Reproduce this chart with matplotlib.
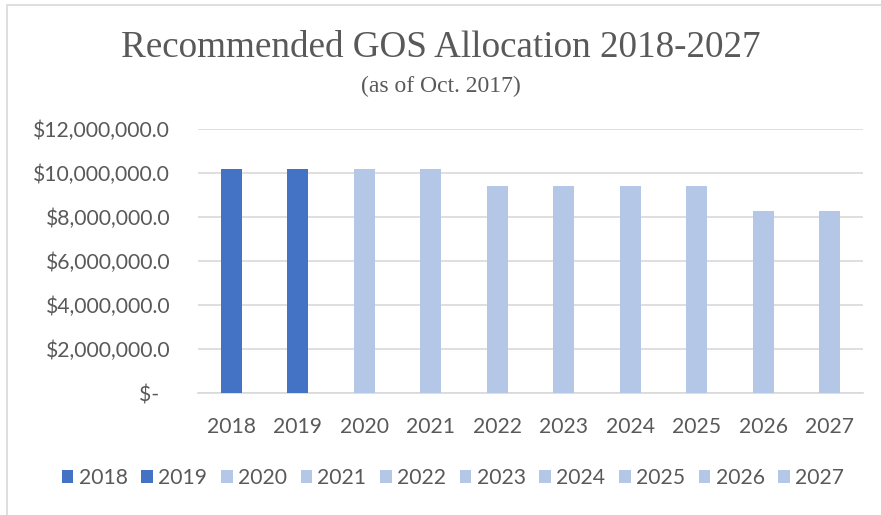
import matplotlib
matplotlib.use("Agg")
import matplotlib.pyplot as plt
from matplotlib.patches import Patch, Rectangle
from matplotlib.ticker import FuncFormatter

years = ["2018", "2019", "2020", "2021", "2022", "2023", "2024", "2025", "2026", "2027"]
allocation = [10180000, 10180000, 10180000, 10180000, 9420000, 9420000, 9420000, 9420000, 8290000, 8290000]
dark_blue = "#4472C4"
light_blue = "#B4C7E7"
colors = [dark_blue, dark_blue] + [light_blue] * 8

text_grey = "#595959"
plt.rcParams["font.family"] = ["Lato", "DejaVu Sans"]

fig = plt.figure(figsize=(8.81, 5.15), dpi=100)
fig.patches.append(Rectangle((7 / 881, -0.1), 1.2, 1 - 5 / 515 + 0.1, transform=fig.transFigure,
                             fill=False, edgecolor="#D9D9D9", linewidth=1.2))

ax = fig.add_axes([198 / 881, 1 - 393.3 / 515, 665 / 881, (393.3 - 129.3) / 515])
x = range(len(years))
ax.bar(x, allocation, width=0.31, color=colors, zorder=3)

ax.set_xlim(-0.5, len(years) - 0.5)
ax.set_ylim(0, 12000000)
ax.set_yticks(range(0, 12000001, 2000000))

def money(v, pos):
    if v == 0:
        return "$-  "
    return "${:,.1f}".format(v)

ax.yaxis.set_major_formatter(FuncFormatter(money))
ax.set_xticks(list(x))
ax.set_xticklabels(years)
ax.tick_params(axis="both", length=0, labelsize=15.2, colors=text_grey)
ax.tick_params(axis="x", pad=17)
ax.tick_params(axis="y", pad=20)
ax.grid(axis="y", color="#D9D9D9", linewidth=1.2, zorder=0)
for s in ["top", "right", "left"]:
    ax.spines[s].set_visible(False)
ax.spines["bottom"].set_color("#D9D9D9")
ax.spines["bottom"].set_linewidth(1.2)

fig.text(0.5, 1 - 48 / 515, "Recommended GOS Allocation 2018-2027", ha="center", va="center",
         fontsize=26.7, color=text_grey, family=["Liberation Serif"])
fig.text(0.5, 1 - 86 / 515, "(as of Oct. 2017)", ha="center", va="center",
         fontsize=17, color=text_grey, family=["Liberation Serif"])

handles = [Patch(facecolor=c, edgecolor="none") for c in colors]
fig.legend(handles, years, loc="center", bbox_to_anchor=(453 / 881, 1 - 478 / 515), ncol=10,
           frameon=False, fontsize=15.2, labelcolor=text_grey, handlelength=0.55, handleheight=0.55,
           handletextpad=0.25, columnspacing=0.65)

fig.savefig("out.png", dpi=100)
